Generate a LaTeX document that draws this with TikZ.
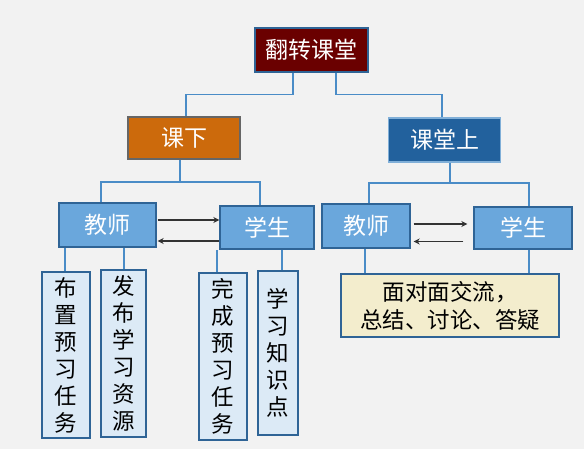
\documentclass[tikz,border=0pt]{standalone}
\usepackage{fontspec}
\newfontfamily\cjk{Noto Sans CJK SC}
\usetikzlibrary{arrows.meta}
\definecolor{bg}{HTML}{F2F2F2}
\definecolor{lnblue}{HTML}{4A8CC7}
\definecolor{bxborder}{HTML}{2F6496}
\definecolor{midblue}{HTML}{6AA7DC}
\definecolor{pale}{HTML}{DCEAF6}
\definecolor{cream}{HTML}{F3EDCD}
\definecolor{maroon}{HTML}{6A0000}
\definecolor{orng}{HTML}{CC6A0C}
\definecolor{dblue}{HTML}{22619D}
\tikzset{
  base/.style={draw=bxborder, line width=1.4pt, inner sep=0pt, font=\cjk\fontsize{23}{27}\selectfont, align=center},
  topbox/.style={base, fill=maroon, text=white},
  leftbox/.style={base, fill=orng, draw=black!60, text=white},
  rightbox/.style={base, fill=dblue, draw=lnblue!70, text=white},
  person/.style={base, fill=midblue, text=white},
  vbox/.style={base, fill=pale, text=black, font=\cjk\fontsize{22.5}{27}\selectfont},
  talkbox/.style={base, fill=cream, text=black, font=\cjk\fontsize{22.5}{28}\selectfont},
  conn/.style={draw=lnblue, line width=1.6pt},
  arr/.style={draw=black!80, line width=1.8pt, -{Stealth[length=6pt,width=6pt]}}
}
\begin{document}
\begin{tikzpicture}[x=1pt,y=-1pt]
\fill[bg] (0,0) rectangle (584,449);
\useasboundingbox (0,0) rectangle (584,449);

\node[topbox, minimum width=113pt, minimum height=44pt] (top) at (311.5,50) {翻转课堂};
\node[leftbox, minimum width=112pt, minimum height=42pt] (kx) at (184,138) {课下};
\node[rightbox, minimum width=112pt, minimum height=44pt] (kt) at (444.5,140) {课堂上};

\node[person, minimum width=97pt, minimum height=44pt] (js1) at (107.5,225) {教师};
\node[person, minimum width=94pt, minimum height=43pt] (xs1) at (267,227.5) {学生};
\node[person, minimum width=88pt, minimum height=44pt] (js2) at (366,226) {教师};
\node[person, minimum width=98pt, minimum height=42pt] (xs2) at (523,228) {学生};

\node[vbox, minimum width=48pt, minimum height=166pt] (b1) at (66,355) {布\\置\\预\\习\\任\\务};
\node[vbox, minimum width=45pt, minimum height=167pt] (b2) at (123.5,353.5) {发\\布\\学\\习\\资\\源};
\node[vbox, minimum width=48pt, minimum height=167pt] (b3) at (223,356.5) {完\\成\\预\\习\\任\\务};
\node[vbox, minimum width=40pt, minimum height=164pt] (b4) at (278,353) {学\\习\\知\\识\\点};
\node[talkbox, minimum width=218pt, minimum height=63pt] (c) at (450,305.5) {面对面交流，\\总结、讨论、答疑};

% top connectors
\draw[conn] ([xshift=-18.5pt]top.south) -- ++(0,22) -| ([xshift=2pt]kx.north);
\draw[conn] ([xshift=24.5pt]top.south) -- ++(0,22) -| ([xshift=-2.5pt]kt.north);

% lower connectors
\coordinate (m1) at (180,182);
\draw[conn] ([xshift=-4pt]kx.south) -- (m1);
\draw[conn] ([xshift=-6.5pt]js1.north) |- (m1) -| ([xshift=-7pt]xs1.north);
\coordinate (m2) at (450,183);
\draw[conn] ([xshift=5.5pt]kt.south) -- (m2);
\draw[conn] ([xshift=3pt]js2.north) |- (m2) -| ([xshift=6pt]xs2.north);

% to lower boxes
\draw[conn] ([xshift=-1pt]b1.north) -- ([xshift=-1pt]b1.north |- js1.south);
\draw[conn] ([xshift=0.5pt]b2.north) -- ([xshift=0.5pt]b2.north |- js1.south);
\draw[conn] ([xshift=-6pt]b3.north) -- ([xshift=-6pt]b3.north |- xs1.south);
\draw[conn] ([xshift=4pt]b4.north) -- ([xshift=4pt]b4.north |- xs1.south);
\draw[conn] ([xshift=-85pt]c.north) -- ([xshift=-85pt]c.north |- js2.south);
\draw[conn] ([xshift=79pt]c.north) -- ([xshift=79pt]c.north |- xs2.south);

% arrows
\draw[arr] ([xshift=1pt,yshift=5pt]js1.east) -- ([yshift=5pt]js1.east -| xs1.west);
\draw[arr] ([yshift=-16pt]js1.east -| xs1.west) -- ([xshift=1pt,yshift=-16pt]js1.east);
\draw[arr] ([xshift=3pt,yshift=2pt]js2.east) -- ([xshift=-6pt,yshift=2pt]js2.east -| xs2.west);
\draw[arr] ([xshift=-10pt,yshift=-15.5pt]js2.east -| xs2.west) -- ([xshift=3pt,yshift=-15.5pt]js2.east);
\end{tikzpicture}
\end{document}
